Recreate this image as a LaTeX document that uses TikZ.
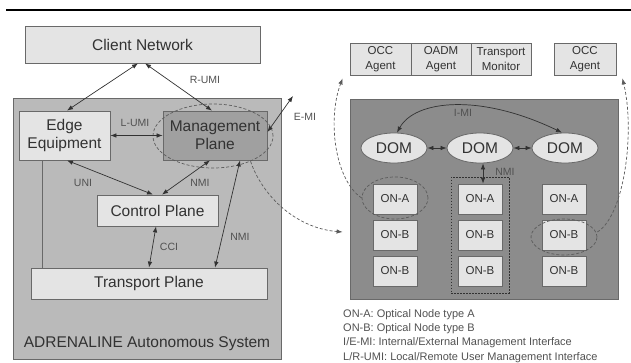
\documentclass[tikz,border=0pt]{standalone}
\usepackage{fontspec}
\setmainfont{Liberation Sans}
\usetikzlibrary{arrows.meta,shapes.geometric,fit}
\definecolor{paleground}{RGB}{228,228,228}
\definecolor{systemgray}{RGB}{186,186,186}
\definecolor{mgmtgray}{RGB}{160,160,160}
\definecolor{domaingray}{RGB}{140,140,140}
\definecolor{framegray}{RGB}{105,105,105}
\definecolor{inkgray}{RGB}{50,50,50}

\begin{document}
\begin{tikzpicture}[x=1pt,y=-1pt]

		\tikzset{
		    plane/.style={draw=framegray, line width=0.8pt, fill=paleground, text=inkgray,
		        font=\fontsize{15.5}{18}\selectfont, inner sep=0pt, align=center},
		    agent/.style={plane, font=\fontsize{11.5}{15.5}\selectfont, minimum width=60pt, minimum height=32pt},
		    onbox/.style={plane, font=\fontsize{11.5}{13}\selectfont, minimum width=44pt, minimum height=30pt},
		    dom/.style={ellipse, plane, minimum width=66pt, minimum height=30pt},
		    ring/.style={ellipse, draw=inkgray!80, dashed, dash pattern=on 3pt off 2pt, line width=0.7pt, inner sep=0pt},
		    link/.style={draw=inkgray, line width=0.7pt, <->, >={Latex[length=6pt,width=4.5pt]}},
		    hop/.style={draw=inkgray!80, line width=0.7pt, dash pattern=on 3pt off 2pt, ->, >={Latex[length=6pt,width=4.5pt]}},
		    tag/.style={text=inkgray!85, font=\fontsize{10.5}{12}\selectfont, inner sep=1pt}
		}

		\useasboundingbox (0,0) rectangle (631,363);

		% rule on top
		\draw[line width=1.6pt] (6,10) -- (631,10);

		% autonomous system

		\node[plane, fill=systemgray, minimum width=268pt, minimum height=261pt] (system) at (147,228.5) {};
		\node[plane, minimum width=235pt, minimum height=37pt] (client) at (142.5,44.5) {Client Network};
		\node[plane, minimum width=91pt, minimum height=49pt] (edge) at (64.5,135.5) {Edge\\Equipment};
		\node[plane, fill=mgmtgray, minimum width=104pt, minimum height=49pt] (mgmt) at (215,135.5) {Management\\Plane};
		\node[plane, minimum width=121pt, minimum height=31pt] (control) at (157.5,210.5) {Control Plane};
		\node[plane, minimum width=236pt, minimum height=31pt] (transport) at (149,283.5) {Transport Plane};
		\node[text=inkgray, font=\fontsize{15.5}{18}\selectfont] (sysname) at (147,344) {ADRENALINE Autonomous System};

		\node[ring, minimum width=120pt, minimum height=64pt] (mgmtring) at (213,136) {};

		% interfaces of the system
		\draw[link] ([xshift=-4.5pt]client.south) -- ([xshift=2.5pt]edge.north);
		\draw[link] ([xshift=2.5pt]client.south) -- ([xshift=-3pt]mgmt.north);
		\node[tag] (rumi) at (205,80) {R-UMI};

		\coordinate (emiend) at (293,96);
		\draw[link] ([yshift=3.5pt]mgmt.east) -- (emiend);
		\node[tag] (emi) at (305,117) {E-MI};

		\draw[link] (edge.east) -- (mgmt.west);
		\node[tag] (lumi) at (135,123) {L-UMI};

		\draw[link] ([xshift=2.5pt]edge.south) -- ([xshift=-4.5pt]control.north);
		\node[tag] (uni) at (83,183) {UNI};

		\draw[link] ([xshift=-5pt]mgmt.south) -- ([xshift=4.5pt]control.north);
		\node[tag] (nmi) at (200,183) {NMI};

		\draw[link] ([xshift=25pt]mgmt.south) -- ([xshift=66pt]transport.north);
		\node[tag] (nmilong) at (240,237) {NMI};

		\draw[link] ([xshift=-1.5pt]control.south) -- (transport.north);
		\node[tag] (cci) at (169,247) {CCI};

		\draw[draw=framegray, line width=0.8pt] ([xshift=-22.5pt]edge.south) -- ([xshift=-107pt]transport.north);

		% management domain

		\node[plane, fill=domaingray, minimum width=268pt, minimum height=200pt] (panel) at (484,199) {};

		\node[agent, minimum width=61pt] (occa) at (380.5,59) {OCC\\Agent};
		\node[agent] (oadm) at (441,59) {OADM\\Agent};
		\node[agent] (monitor) at (501,59) {Transport\\Monitor};
		\node[agent, minimum width=62pt] (occb) at (585,59) {OCC\\Agent};

		\node[dom] (doma) at (394,148) {DOM};
		\node[dom] (domb) at (480,148) {DOM};
		\node[dom] (domc) at (565,148) {DOM};

		\foreach \col/\x in {1/395,2/480,3/564} {
		    \node[onbox] (ona\col) at (\x,199) {ON-A};
		    \node[onbox] (onb\col) at (\x,235) {ON-B};
		    \node[onbox] (onc\col) at (\x,271) {ON-B};
		}

		\node[ring, minimum width=66pt, minimum height=42pt] (ringa) at (395,198) {};
		\node[ring, minimum width=66pt, minimum height=36pt] (ringc) at (564,237) {};
		\node[draw=inkgray, line width=0.8pt, dash pattern=on 1.5pt off 1.5pt, inner sep=6.5pt, fit=(ona2)(onc2)] (colframe) {};

		% markings and text

		\draw[link] (doma) -- (domb);
		\draw[link] (domb) -- (domc);
		\draw[link] ([xshift=3pt]doma.north) .. controls (415,100) and (480,93) .. ([xshift=-3pt]domc.north);
		\node[tag] (imi) at (463,113) {I-MI};

		\draw[link] ([xshift=3pt]domb.south) -- ([xshift=3pt]ona2.north);
		\node[tag] (nmidom) at (505,172) {NMI};

		\draw[hop] (mgmtring.-34) .. controls (262,195) and (295,228) .. ([xshift=-7pt,yshift=-33pt]panel.west);
		\draw[hop] (ringa.west) .. controls (335,180) and (327,120) .. ([xshift=-7pt,yshift=-3pt]occa.south west);
		\draw[hop] ([yshift=5pt]ringc.east) .. controls (625,215) and (635,130) .. ([xshift=6pt,yshift=-3pt]occb.south east);

		\node[text=inkgray!85, font=\fontsize{11}{14.4}\selectfont, align=left, inner sep=0pt, anchor=north west] (key) at (343,309)
		    {ON-A: Optical Node type A\\ON-B: Optical Node type B\\I/E-MI: Internal/External Management Interface\\L/R-UMI: Local/Remote User Management Interface};

\end{tikzpicture}
\end{document}
